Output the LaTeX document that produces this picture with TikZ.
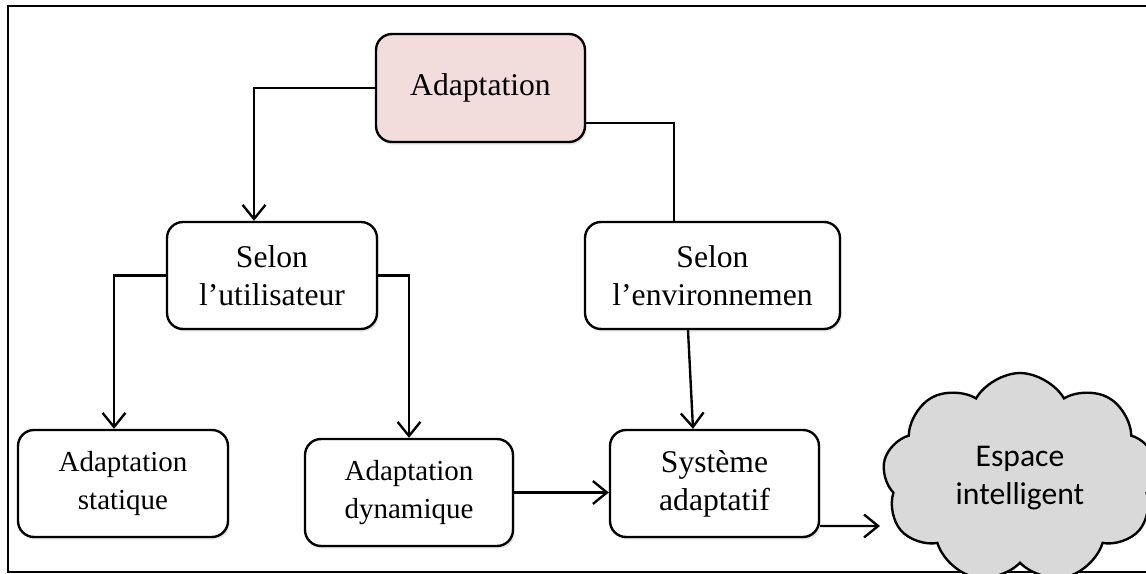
\documentclass[tikz,border=0pt]{standalone}
\usepackage{fontspec}
\setmainfont{Liberation Serif}
\newfontfamily\cloudfont{Carlito}
\usetikzlibrary{arrows.meta,shapes.symbols,shadows,calc}
\definecolor{pinkfill}{RGB}{242,221,220}
\definecolor{cloudgray}{RGB}{217,217,217}
\tikzset{
  box/.style={draw, line width=1.35pt, rounded corners=0.32cm, fill=white, align=center,
    inner sep=0pt, font=\fontsize{18}{21.5}\selectfont,
    drop shadow={shadow xshift=1pt, shadow yshift=-1.5pt, opacity=0.2}},
  smallbox/.style={box, font=\fontsize{16.5}{21.5}\selectfont},
  conn/.style={line width=1.35pt},
  arr/.style={conn, -{Straight Barb[length=8pt,width=13pt,line width=1.35pt]}},
}
\begin{document}
\begin{tikzpicture}[x=0.02cm,y=-0.02cm]
\useasboundingbox (0,0) rectangle (1146,574);
% frame
\draw[line width=1.35pt] (8,6) rectangle (1170,572);
% nodes
\node[box, fill=pinkfill, minimum width=4.18cm, minimum height=2.16cm] (adapt) at (480.5,88) {Adaptation};
\node[box, minimum width=4.2cm, minimum height=2.14cm] (util) at (272,275.5) {Selon\\l’utilisateur};
\node[box, minimum width=5.1cm, minimum height=2.14cm] (env) at (712.5,275.5) {Selon\\l’environnemen};
\node[smallbox, minimum width=4.2cm, minimum height=2.14cm] (stat) at (123,483.5) {Adaptation\\statique};
\node[smallbox, minimum width=4.16cm, minimum height=2.14cm] (dyn) at (409,492.5) {Adaptation\\dynamique};
\node[box, minimum width=4.18cm, minimum height=2.14cm] (sys) at (714.5,483.5) {Système\\adaptatif};
\node[cloud, cloud puffs=9, cloud puff arc=120, aspect=1.3, draw, line width=1.35pt, fill=cloudgray,
  minimum width=5.5cm, minimum height=4.2cm, inner sep=0pt, align=center,
  font=\cloudfont\fontsize{18}{21.5}\selectfont] (cloud) at (1020,478) {Espace\\intelligent};
\coordinate (tip) at (880,526);
% connectors
\draw[arr] (adapt.west) -| ([xshift=-0.36cm]util.north);
\draw[conn] ([yshift=-0.7cm]adapt.east) -| ([xshift=-0.77cm]env.north);
\draw[arr] (util.west) -| ([xshift=-0.18cm]stat.north);
\draw[arr] (util.east) -| (dyn.north);
\draw[arr] ([xshift=-0.49cm]env.south) -- ([xshift=-0.43cm]sys.north);
\draw[arr] (dyn.east) -- (dyn.east -| sys.west);
\draw[arr] ([yshift=-0.85cm]sys.east) -- (tip);
\end{tikzpicture}
\end{document}
